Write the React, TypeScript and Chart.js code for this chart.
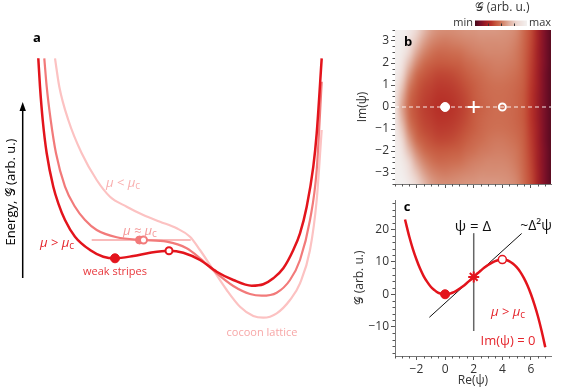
import React, { useEffect, useRef } from "react";
import { Chart, registerables } from "chart.js";
Chart.register(...registerables);

const FONT = "'Open Sans', 'DejaVu Sans', 'DejaVu Serif', sans-serif";

// ---------- Panel a data (x: arb. position, E: arb. energy) ----------
const A_DARK_X = [38.3, 40, 42.7, 46.7, 53.3, 58.3, 65, 75, 90, 103.3, 115, 133.3, 150, 169, 183.3, 200, 216.7, 233.3, 251.7, 263.3, 273.3, 283.3, 293.3, 300, 306.7, 313.3, 316.7, 321.7];
const A_DARK_E = [281.7, 253.3, 220, 186.7, 153.3, 136.7, 120, 103.3, 90, 83.3, 81.7, 84, 87.3, 89.3, 87.3, 80, 68.3, 60, 54.3, 55.7, 61.7, 71.7, 90, 106.7, 133.3, 173.3, 206.7, 281.7];
const A_MED_X = [44.3, 46.7, 50.7, 56, 65, 75, 85, 96.7, 116.7, 141.7, 166.7, 186.7, 200, 216.7, 233.3, 250, 261.7, 276.7, 290, 300, 310, 316.7, 321.7];
const A_MED_E = [281.7, 253.3, 220, 186.7, 153.3, 133.3, 120, 110, 102.7, 100, 98.3, 91.7, 81.7, 66.7, 54, 46, 44.3, 47.3, 60, 80, 120, 170, 258.3];
const A_LIGHT_X = [55, 59.3, 68.3, 81.7, 96.7, 110, 126.7, 143.3, 160, 176.7, 190, 200, 213.3, 226.7, 240, 253.3, 263.3, 276.7, 290, 300, 310, 316.7, 321.7];
const A_LIGHT_E = [281.7, 253.3, 220, 186.7, 160, 143.3, 133.3, 125, 118.3, 111.7, 103.3, 90, 70, 50, 33.3, 24, 22.3, 26.7, 40, 56.7, 90, 140, 210];
const A_TANGENT_X = [91.7, 190.7];
const A_TANGENT_E = [100, 100];
const A_DARK_MIN = { x: 115, y: 81.7 };
const A_DARK_MAX = { x: 169, y: 89.3 };
const A_MED_MIN = { x: 139.5, y: 100 };
const A_MED_MAX = { x: 143.5, y: 100 };

// ---------- Panel b data ----------
const HEAT_RE = [-3.5, -3, -2.5, -2, -1.5, -1, -0.5, 0, 0.5, 1, 1.5, 2, 2.5, 3, 3.5, 4, 4.5, 5, 5.5, 6, 6.5, 7, 7.5];
const HEAT_IM = [0, 0.5, 1, 1.5, 2, 2.5, 3, 3.5]; // |Im(psi)|, mirrored
const HEAT_IM0 = [0.92, 0.62, 0.45, 0.38, 0.34, 0.32, 0.30, 0.30, 0.31, 0.33, 0.36, 0.40, 0.43, 0.45, 0.47, 0.47, 0.46, 0.44, 0.40, 0.31, 0.19, 0.09, 0.02];
const HEAT_IM05 = [0.94, 0.66, 0.47, 0.39, 0.35, 0.33, 0.31, 0.31, 0.32, 0.34, 0.37, 0.41, 0.44, 0.46, 0.47, 0.47, 0.46, 0.44, 0.40, 0.31, 0.19, 0.09, 0.02];
const HEAT_IM1 = [0.96, 0.74, 0.52, 0.42, 0.37, 0.35, 0.33, 0.33, 0.34, 0.36, 0.39, 0.42, 0.45, 0.47, 0.48, 0.48, 0.47, 0.45, 0.41, 0.32, 0.20, 0.09, 0.02];
const HEAT_IM15 = [0.98, 0.82, 0.60, 0.47, 0.41, 0.38, 0.36, 0.36, 0.37, 0.39, 0.42, 0.45, 0.47, 0.49, 0.50, 0.50, 0.49, 0.47, 0.42, 0.33, 0.20, 0.09, 0.02];
const HEAT_IM2 = [1.0, 0.90, 0.70, 0.55, 0.47, 0.43, 0.41, 0.41, 0.42, 0.43, 0.46, 0.48, 0.50, 0.51, 0.52, 0.52, 0.51, 0.49, 0.43, 0.34, 0.21, 0.10, 0.02];
const HEAT_IM25 = [1.0, 0.95, 0.80, 0.64, 0.54, 0.49, 0.46, 0.46, 0.47, 0.48, 0.50, 0.52, 0.53, 0.54, 0.54, 0.54, 0.53, 0.50, 0.44, 0.35, 0.21, 0.10, 0.02];
const HEAT_IM3 = [1.0, 0.98, 0.88, 0.74, 0.62, 0.55, 0.52, 0.51, 0.52, 0.53, 0.54, 0.55, 0.56, 0.56, 0.56, 0.56, 0.55, 0.52, 0.45, 0.36, 0.22, 0.10, 0.02];
const HEAT_IM35 = [1.0, 1.0, 0.94, 0.82, 0.70, 0.61, 0.57, 0.56, 0.56, 0.57, 0.58, 0.58, 0.59, 0.59, 0.59, 0.58, 0.57, 0.54, 0.46, 0.37, 0.22, 0.10, 0.02];
const HEAT_ROWS = [HEAT_IM0, HEAT_IM05, HEAT_IM1, HEAT_IM15, HEAT_IM2, HEAT_IM25, HEAT_IM3, HEAT_IM35];
const B_POINTS_RE = [0, 2, 4];
const B_LINE_RE = [-3.5, 7.4];
const B_Y_TICKS = [-3, -2, -1, 0, 1, 2, 3];

// ---------- Panel c data ----------
const C_RE = [-2.8, -2.5, -2.25, -2, -1.75, -1.5, -1.25, -1, -0.75, -0.5, -0.25, 0, 0.25, 0.5, 0.75, 1, 1.25, 1.5, 1.75, 2, 2.25, 2.5, 2.75, 3, 3.25, 3.5, 3.75, 4, 4.25, 4.5, 4.75, 5, 5.25, 5.5, 5.75, 6, 6.25, 6.5, 6.75, 7];
const C_G = [23.0, 17.7, 13.9, 10.7, 7.9, 5.6, 3.8, 2.3, 1.3, 0.5, 0.13, 0, 0.12, 0.46, 0.98, 1.67, 2.47, 3.38, 4.34, 5.33, 6.33, 7.29, 8.2, 9.0, 9.68, 10.21, 10.55, 10.67, 10.54, 10.13, 9.4, 8.33, 6.89, 5.04, 2.76, 0, -3.26, -7.0, -11.4, -16.3];
const C_TANGENT_RE = [-1.1, 5.35];
const C_TANGENT_G = [-7.1, 18.7];
const C_VLINE_RE = [2, 2];
const C_VLINE_G = [-11.3, 18.8];
const C_MIN = { x: 0, y: 0 };
const C_MAX = { x: 4, y: 10.67 };
const C_INFL = { x: 2, y: 5.33 };
const C_X_TICKS = [-2, 0, 2, 4, 6];
const C_Y_TICKS = [-10, 0, 10, 20];

const DARK = "#e3141c";
const MED = "#f27a7a";
const LIGHT = "#fcc2c2";

const CMAP: [number, number[]][] = [
  [0.0, [74, 8, 28]],
  [0.1, [122, 16, 40]],
  [0.2, [158, 30, 38]],
  [0.3, [182, 48, 40]],
  [0.4, [198, 88, 62]],
  [0.48, [206, 112, 84]],
  [0.56, [214, 142, 118]],
  [0.66, [224, 176, 160]],
  [0.8, [236, 214, 208]],
  [1.0, [243, 240, 239]],
];
function cmap(v: number): number[] {
  v = Math.max(0, Math.min(1, v));
  for (let i = 1; i < CMAP.length; i++) {
    if (v <= CMAP[i][0]) {
      const [a, ca] = CMAP[i - 1];
      const [b, cb] = CMAP[i];
      const t = (v - a) / (b - a);
      return ca.map((c, k) => Math.round(c + (cb[k] - c) * t));
    }
  }
  return CMAP[CMAP.length - 1][1];
}

const zip = (xs: number[], ys: number[]) => xs.map((x, i) => ({ x, y: ys[i] }));

type Seg = { t: string; size?: number; dy?: number; italic?: boolean; bold?: boolean };
function drawSegs(ctx: CanvasRenderingContext2D, segs: Seg[], x: number, y: number, base: number, color: string, align: "left" | "center" | "right" = "center") {
  const fontOf = (s: Seg) => `${s.italic ? "italic " : ""}${s.bold ? "bold " : ""}${(s.size ?? 1) * base}px ${FONT}`;
  let total = 0;
  const widths = segs.map((s) => {
    ctx.font = fontOf(s);
    const w = ctx.measureText(s.t).width;
    total += w;
    return w;
  });
  let cx = align === "center" ? x - total / 2 : align === "right" ? x - total : x;
  ctx.save();
  ctx.fillStyle = color;
  ctx.textBaseline = "middle";
  ctx.textAlign = "left";
  segs.forEach((s, i) => {
    ctx.font = fontOf(s);
    ctx.fillText(s.t, cx, y + (s.dy ?? 0));
    cx += widths[i];
  });
  ctx.restore();
}
const muText = (rel: string): Seg[] => [{ t: `μ ${rel} μ`, italic: true }, { t: "c", size: 0.78, dy: 3 }];

const minorTicks = (defs: { axis: string; values: number[]; len: number }[]) => ({
  id: "minorTicks",
  afterDraw(chart: any) {
    const ctx = chart.ctx;
    ctx.save();
    ctx.strokeStyle = "#555";
    ctx.lineWidth = 1;
    defs.forEach((d) => {
      const s = chart.scales[d.axis];
      d.values.forEach((v) => {
        const p = Math.round(s.getPixelForValue(v)) + 0.5;
        ctx.beginPath();
        if (s.isHorizontal()) {
          ctx.moveTo(p, s.top);
          ctx.lineTo(p, s.top + d.len);
        } else {
          ctx.moveTo(s.right, p);
          ctx.lineTo(s.right - d.len, p);
        }
        ctx.stroke();
      });
    });
    ctx.restore();
  },
});

function rangeVals(a: number, b: number, step: number, skip: number[]) {
  const out: number[] = [];
  for (let v = a; v <= b + 1e-9; v += step) {
    const r = Math.round(v * 100) / 100;
    if (!skip.some((s) => Math.abs(s - r) < 1e-6)) out.push(r);
  }
  return out;
}

function cfgA(): any {
  const line = (data: any, color: string, w: number) => ({
    data, borderColor: color, borderWidth: w, showLine: true, pointRadius: 0, cubicInterpolationMode: "monotone", fill: false,
  });
  const pt = (p: any, fillC: string, border: string, r: number, bw: number) => ({
    data: [p], showLine: false, pointRadius: r, pointBackgroundColor: fillC, pointBorderColor: border, pointBorderWidth: bw,
  });
  return {
    type: "scatter",
    data: {
      datasets: [
        pt(A_DARK_MIN, DARK, DARK, 4.5, 1),
        pt(A_DARK_MAX, "#fff", DARK, 3.5, 2),
        pt(A_MED_MAX, "#fff", MED, 3.5, 2),
        pt(A_MED_MIN, MED, MED, 4, 1),
        line(zip(A_DARK_X, A_DARK_E), DARK, 2.5),
        line(zip(A_MED_X, A_MED_E), MED, 2.2),
        line(zip(A_TANGENT_X, A_TANGENT_E), "#f7a3a3", 1.5),
        line(zip(A_LIGHT_X, A_LIGHT_E), LIGHT, 2.2),
      ],
    },
    options: {
      animation: false, responsive: false, devicePixelRatio: 1,
      layout: { padding: { left: 30, right: 233, top: 58, bottom: 50 } },
      plugins: { legend: { display: false }, tooltip: { enabled: false } },
      scales: {
        x: { type: "linear", min: 30, max: 330, display: false },
        y: { type: "linear", min: 0, max: 282, display: false },
      },
    },
    plugins: [
      {
        id: "annA",
        afterDraw(chart: any) {
          const ctx = chart.ctx;
          ctx.save();
          ctx.strokeStyle = "#000";
          ctx.fillStyle = "#000";
          ctx.lineWidth = 1.5;
          ctx.beginPath();
          ctx.moveTo(22.7, 278);
          ctx.lineTo(22.7, 110);
          ctx.stroke();
          ctx.beginPath();
          ctx.moveTo(22.7, 102);
          ctx.lineTo(19.5, 111);
          ctx.lineTo(25.9, 111);
          ctx.closePath();
          ctx.fill();
          ctx.translate(11, 192);
          ctx.rotate(-Math.PI / 2);
          drawSegs(ctx, [{ t: "Energy, 𝒢 (arb. u.)" }], 0, 0, 13, "#000");
          ctx.restore();
          drawSegs(ctx, [{ t: "a", bold: true }], 37, 38, 13, "#000");
          drawSegs(ctx, muText("<"), 123, 183, 13, "#f9b0b0");
          drawSegs(ctx, muText("≈"), 140, 231, 13, "#f59a9a");
          drawSegs(ctx, muText(">"), 57, 243, 13, "#e5262d");
          drawSegs(ctx, [{ t: "weak stripes" }], 115, 272, 11, "#e8383d");
          drawSegs(ctx, [{ t: "cocoon lattice" }], 262, 333, 11, "#f7a7a7");
        },
      },
    ],
  };
}

function cfgB(): any {
  const heat = {
    id: "heat",
    beforeDatasetsDraw(chart: any) {
      const { ctx, chartArea: ca, scales } = chart;
      const nx = HEAT_RE.length;
      const nh = HEAT_IM.length;
      const ny = nh * 2 - 1;
      const off = document.createElement("canvas");
      off.width = nx;
      off.height = ny;
      const octx = off.getContext("2d")!;
      const img = octx.createImageData(nx, ny);
      for (let r = 0; r < ny; r++) {
        const row = HEAT_ROWS[Math.abs(nh - 1 - r)];
        for (let c = 0; c < nx; c++) {
          const col = cmap(row[c]);
          const k = (r * nx + c) * 4;
          img.data[k] = col[0];
          img.data[k + 1] = col[1];
          img.data[k + 2] = col[2];
          img.data[k + 3] = 255;
        }
      }
      octx.putImageData(img, 0, 0);
      const hs = (HEAT_RE[1] - HEAT_RE[0]) / 2;
      const vs = (HEAT_IM[1] - HEAT_IM[0]) / 2;
      const x0 = scales.x.getPixelForValue(HEAT_RE[0] - hs);
      const x1 = scales.x.getPixelForValue(HEAT_RE[nx - 1] + hs);
      const y0 = scales.y.getPixelForValue(HEAT_IM[nh - 1] + vs);
      const y1 = scales.y.getPixelForValue(-HEAT_IM[nh - 1] - vs);
      ctx.save();
      ctx.beginPath();
      ctx.rect(ca.left, ca.top, ca.right - ca.left, ca.bottom - ca.top);
      ctx.clip();
      ctx.imageSmoothingEnabled = true;
      ctx.imageSmoothingQuality = "high";
      ctx.drawImage(off, x0, y0, x1 - x0, y1 - y0);
      ctx.restore();
    },
    afterDraw(chart: any) {
      const ctx = chart.ctx;
      const bx = 475, bw = 52, by = 20.5, bh = 5.5;
      for (let i = 0; i < bw; i++) {
        const c = cmap(i / (bw - 1));
        ctx.fillStyle = `rgb(${c[0]},${c[1]},${c[2]})`;
        ctx.fillRect(bx + i, by, 1, bh);
      }
      ctx.save();
      ctx.strokeStyle = "#333";
      ctx.lineWidth = 1;
      [0.25, 0.5, 0.75].forEach((f) => {
        const x = Math.round(bx + f * bw) + 0.5;
        ctx.beginPath();
        ctx.moveTo(x, by + bh);
        ctx.lineTo(x, by + bh - 2.5);
        ctx.stroke();
      });
      ctx.restore();
      drawSegs(ctx, [{ t: "min" }], 473, 23, 11, "#333", "right");
      drawSegs(ctx, [{ t: "max" }], 529, 23, 11, "#333", "left");
      drawSegs(ctx, [{ t: "𝒢 (arb. u.)" }], 502, 8, 12, "#333");
      drawSegs(ctx, [{ t: "b", bold: true }], 408, 42, 13, "#000");
    },
  };
  return {
    type: "scatter",
    data: {
      datasets: [
        { data: [{ x: B_POINTS_RE[0], y: 0 }], showLine: false, pointRadius: 4.5, pointBackgroundColor: "#fff", pointBorderColor: "#fff", pointBorderWidth: 1 },
        { data: [{ x: B_POINTS_RE[1], y: 0 }], showLine: false, pointStyle: "cross", pointRadius: 6, pointBorderColor: "#fff", pointBorderWidth: 2 },
        { data: [{ x: B_POINTS_RE[2], y: 0 }], showLine: false, pointRadius: 3.5, pointBackgroundColor: "rgba(0,0,0,0)", pointBorderColor: "#fff", pointBorderWidth: 2 },
        { data: B_LINE_RE.map((x) => ({ x, y: 0 })), showLine: true, borderColor: "rgba(255,255,255,0.9)", borderWidth: 1.2, borderDash: [4, 3], pointRadius: 0 },
      ],
    },
    options: {
      animation: false, responsive: false, devicePixelRatio: 1,
      layout: { padding: { left: 351, right: 12, top: 30, bottom: 200 } },
      plugins: { legend: { display: false }, tooltip: { enabled: false } },
      scales: {
        x: {
          type: "linear", min: -3.5, max: 7.4,
          afterFit: (s: any) => { s.height = 6; },
          afterBuildTicks: (s: any) => { s.ticks = C_X_TICKS.map((v) => ({ value: v })); },
          ticks: { callback: () => "", padding: 0 },
          grid: { drawOnChartArea: false, drawTicks: true, tickLength: 4, tickColor: "#555" },
          border: { display: true, color: "#777" },
        },
        y: {
          type: "linear", min: -3.5, max: 3.5,
          afterFit: (s: any) => { s.width = 44; },
          afterBuildTicks: (s: any) => { s.ticks = B_Y_TICKS.map((v) => ({ value: v })); },
          ticks: { color: "#333", font: { family: FONT, size: 12 }, padding: 2, callback: (v: number) => (v < 0 ? "−" + Math.abs(v) : String(v)) },
          grid: { drawOnChartArea: false, drawTicks: true, tickLength: 4, tickColor: "#555" },
          border: { display: true, color: "#777" },
          title: { display: true, text: "Im(ψ)", color: "#333", font: { family: FONT, size: 12 }, padding: { top: 4, bottom: 4 } },
        },
      },
    },
    plugins: [
      heat,
      minorTicks([
        { axis: "x", values: rangeVals(-3.5, 7, 0.5, C_X_TICKS), len: 2.5 },
        { axis: "y", values: rangeVals(-3.5, 3.5, 0.25, B_Y_TICKS), len: 2.5 },
      ]),
    ],
  };
}

function cfgC(): any {
  return {
    type: "scatter",
    data: {
      datasets: [
        { data: [C_INFL], showLine: false, pointStyle: "star", pointRadius: 5.5, pointBorderColor: DARK, pointBorderWidth: 2 },
        { data: [C_MIN], showLine: false, pointRadius: 4.5, pointBackgroundColor: DARK, pointBorderColor: DARK },
        { data: [C_MAX], showLine: false, pointRadius: 4, pointBackgroundColor: "#fff", pointBorderColor: DARK, pointBorderWidth: 1.5 },
        { data: zip(C_RE, C_G), showLine: true, borderColor: DARK, borderWidth: 2.5, pointRadius: 0, cubicInterpolationMode: "monotone" },
        { data: zip(C_TANGENT_RE, C_TANGENT_G), showLine: true, borderColor: "#111", borderWidth: 1, pointRadius: 0 },
        { data: zip(C_VLINE_RE, C_VLINE_G), showLine: true, borderColor: "#666", borderWidth: 1.5, pointRadius: 0 },
      ],
    },
    options: {
      animation: false, responsive: false, devicePixelRatio: 1,
      layout: { padding: { left: 348, right: 12, top: 200, bottom: 0 } },
      plugins: { legend: { display: false }, tooltip: { enabled: false } },
      scales: {
        x: {
          type: "linear", min: -3.5, max: 7.4,
          afterFit: (s: any) => { s.height = 34; },
          afterBuildTicks: (s: any) => { s.ticks = C_X_TICKS.map((v) => ({ value: v })); },
          ticks: { color: "#333", font: { family: FONT, size: 12 }, padding: 2, callback: (v: number) => (v < 0 ? "−" + Math.abs(v) : String(v)) },
          grid: { drawOnChartArea: false, drawTicks: true, tickLength: 4, tickColor: "#555" },
          border: { display: true, color: "#777" },
          title: { display: true, text: "Re(ψ)", color: "#333", font: { family: FONT, size: 12 }, padding: { top: 2, bottom: 2 } },
        },
        y: {
          type: "linear", min: -19, max: 29,
          afterFit: (s: any) => { s.width = 47; },
          afterBuildTicks: (s: any) => { s.ticks = C_Y_TICKS.map((v) => ({ value: v })); },
          ticks: { color: "#333", font: { family: FONT, size: 12 }, padding: 2, callback: (v: number) => (v < 0 ? "−" + Math.abs(v) : String(v)) },
          grid: { drawOnChartArea: false, drawTicks: true, tickLength: 4, tickColor: "#555" },
          border: { display: true, color: "#777" },
          title: { display: true, text: "𝒢 (arb. u.)", color: "#333", font: { family: FONT, size: 12 }, padding: { top: 4, bottom: 4 } },
        },
      },
    },
    plugins: [
      minorTicks([
        { axis: "x", values: rangeVals(-3.5, 7, 0.5, C_X_TICKS), len: 2.5 },
        { axis: "y", values: rangeVals(-18, 28, 2, C_Y_TICKS), len: 2.5 },
      ]),
      {
        id: "annC",
        afterDraw(chart: any) {
          const ctx = chart.ctx;
          drawSegs(ctx, [{ t: "c", bold: true }], 407, 207, 13, "#000");
          drawSegs(ctx, [{ t: "ψ = Δ" }], 473, 227, 15, "#111");
          drawSegs(ctx, [{ t: "~Δ²ψ" }], 536, 226, 14, "#111");
          drawSegs(ctx, muText(">"), 508, 312, 13, "#e5262d");
          drawSegs(ctx, [{ t: "Im(ψ) = 0" }], 508, 341, 13, "#e5262d");
        },
      },
    ],
  };
}

export default function App() {
  const refA = useRef<HTMLCanvasElement>(null);
  const refB = useRef<HTMLCanvasElement>(null);
  const refC = useRef<HTMLCanvasElement>(null);
  useEffect(() => {
    const a = new Chart(refA.current!, cfgA());
    const b = new Chart(refB.current!, cfgB());
    const c = new Chart(refC.current!, cfgC());
    return () => {
      a.destroy();
      b.destroy();
      c.destroy();
    };
  }, []);
  const cs: React.CSSProperties = { position: "absolute", left: 0, top: 0 };
  return (
    <div style={{ position: "absolute", left: 0, top: 0, width: 563, height: 390, background: "#fff", overflow: "hidden" }}>
      <canvas ref={refA} width={563} height={390} style={cs} />
      <canvas ref={refB} width={563} height={390} style={cs} />
      <canvas ref={refC} width={563} height={390} style={cs} />
    </div>
  );
}
